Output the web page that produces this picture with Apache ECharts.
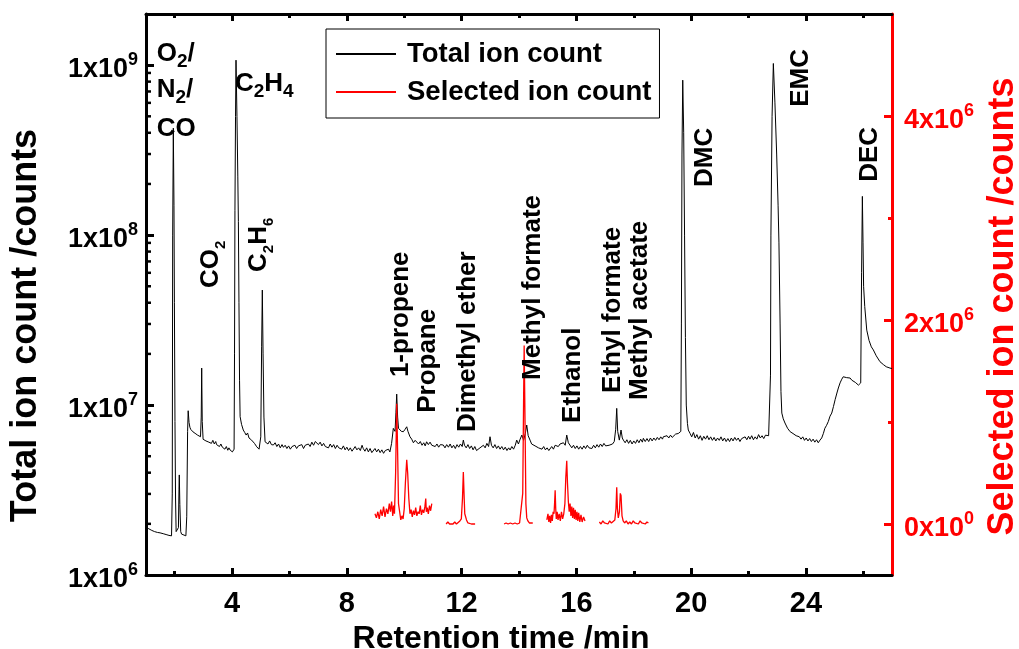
<!DOCTYPE html>
<html><head><meta charset="utf-8">
<script src="https://cdn.jsdelivr.net/npm/echarts@6/dist/echarts.min.js"></script>
<style>html,body{margin:0;padding:0;background:#fff}#c{width:1019px;height:649px}</style>
</head><body><div id="c"></div>
<script>
const FONT = "'Liberation Sans', Arial, Helvetica, sans-serif";

// ---- data (time in min, counts in millions) ----
const totalIonMillions = [
[1.00,1.91],[1.10,1.87],[1.20,1.83],[1.30,1.80],[1.40,1.78],[1.49,1.77],[1.60,1.75],[1.70,1.73],[1.80,1.71],[1.89,1.70],
[1.915,3],[1.93,100],[1.952,426],[1.975,150],[1.99,40],[2.01,8],[2.03,2.8],[2.05,1.80],[2.10,1.76],[2.13,1.9],[2.15,3.2],[2.16,3.88],[2.18,2.6],[2.21,1.8],[2.24,1.74],[2.30,1.71],[2.39,1.70],
[2.42,2.2],[2.45,7.0],[2.47,9.26],[2.50,7.9],[2.53,7.4],[2.56,7.19],[2.60,7.3],[2.64,6.95],[2.68,7.05],[2.71,6.82],[2.76,6.9],[2.80,6.65],[2.85,6.7],[2.90,6.51],[2.925,8.5],[2.941,16.5],[2.96,8.0],[2.99,6.29],
[3.04,6.4],[3.09,6.15],[3.14,6.3],[3.19,6.05],[3.23,6.17],[3.28,5.95],[3.33,6.2],[3.38,5.9],[3.43,6.1],[3.46,5.85],[3.51,6.0],[3.56,5.7],[3.61,5.9],[3.66,5.65],[3.70,5.74],[3.75,5.5],[3.80,5.7],[3.85,5.42],[3.89,5.6],[3.93,5.44],[3.97,5.55],[4.01,5.3],[4.04,5.36],
[4.07,5.5],[4.085,20],[4.10,140],[4.12,500],[4.137,1070],[4.17,500],[4.20,220],[4.22,120],[4.24,40],[4.26,14],[4.28,8.54],[4.33,7.7],[4.39,7.13],[4.44,6.9],[4.49,6.66],[4.54,6.85],[4.59,6.4],[4.63,6.55],[4.68,6.22],[4.73,6.35],[4.78,5.95],[4.82,6.05],[4.86,5.68],[4.90,5.8],[4.94,5.5],[4.97,5.6],
[5.00,6.5],[5.03,22],[5.054,47.5],[5.08,20],[5.11,8.5],[5.15,6.08],[5.21,5.95],
[5.25,5.9],[5.31,6.15],[5.37,5.85],[5.44,5.82],[5.50,6.0],[5.56,5.7],[5.62,5.9],[5.68,5.6],[5.74,5.85],[5.79,5.64],[5.85,5.8],[5.91,5.55],[5.97,5.75],[6.03,5.5],[6.09,5.7],[6.13,5.56],[6.19,5.8],[6.25,5.55],[6.31,5.75],[6.37,5.6],[6.43,5.85],[6.49,5.55],[6.55,5.8],[6.60,5.68],[6.66,5.9],[6.72,5.7],[6.78,6.05],[6.84,5.8],[6.90,6.1],[6.95,6.0],
[7.01,5.85],[7.07,6.05],[7.13,5.75],[7.19,5.95],[7.25,5.7],[7.30,5.82],[7.36,5.6],[7.42,5.9],[7.48,5.65],[7.54,5.85],[7.60,5.55],[7.66,5.8],[7.72,5.6],[7.76,5.68],[7.82,5.5],[7.88,5.75],[7.94,5.45],[8.00,5.65],[8.06,5.4],[8.12,5.6],[8.18,5.35],[8.23,5.49],[8.29,5.7],[8.35,5.45],[8.41,5.6],[8.47,5.4],[8.53,5.8],[8.57,5.56],[8.63,5.35],[8.69,5.6],[8.75,5.3],[8.81,5.55],[8.87,5.25],[8.92,5.31],[8.98,5.55],
[9.04,5.3],[9.10,5.5],[9.16,5.25],[9.22,5.45],[9.28,5.2],[9.34,5.4],[9.39,5.31],[9.45,5.5],[9.50,5.3],[9.56,5.95],[9.62,7.29],[9.68,7.0],[9.71,9.0],[9.738,11.6],[9.77,8.5],[9.80,7.3],[9.85,7.29],[9.90,7.0],[9.97,6.97],
[10.03,7.2],[10.087,7.45],[10.13,7.0],[10.20,6.51],[10.26,6.3],[10.32,6.0],[10.38,6.2],[10.435,6.08],[10.50,5.9],[10.56,6.1],[10.62,5.8],[10.68,6.0],[10.73,5.75],[10.78,6.08],[10.84,5.85],[10.90,6.05],[10.96,5.8],
[11.02,5.95],[11.08,5.7],[11.14,5.9],[11.20,5.65],[11.26,5.85],[11.32,5.7],[11.36,5.82],[11.42,5.6],[11.48,5.85],[11.54,5.65],[11.60,5.9],[11.66,5.6],[11.72,5.8],[11.78,5.55],[11.84,5.85],[11.90,5.65],[11.96,5.9],
[12.02,5.7],[12.06,6.22],[12.10,5.8],[12.16,5.6],[12.22,5.85],[12.28,5.55],[12.34,5.75],[12.40,5.45],[12.46,5.7],[12.52,5.4],[12.58,5.31],[12.64,5.6],[12.70,5.5],[12.76,5.8],[12.82,5.6],[12.88,5.95],[12.94,5.7],[12.99,6.51],
[13.04,5.8],[13.10,5.6],[13.16,5.85],[13.22,5.55],[13.28,5.75],[13.34,5.5],[13.40,5.7],[13.46,5.45],[13.52,5.65],[13.58,5.4],[13.64,5.6],[13.69,5.44],[13.75,5.7],[13.81,5.5],[13.87,5.8],[13.92,6.22],[13.98,5.9],
[14.04,6.3],[14.10,6.66],[14.16,6.2],[14.22,6.8],[14.27,7.63],[14.32,6.6],[14.385,6.22],[14.44,5.9],[14.50,6.0],[14.56,5.75],[14.62,5.82],[14.68,5.6],[14.74,5.75],[14.80,5.5],[14.86,5.7],[14.92,5.45],[14.98,5.6],
[15.04,5.4],[15.08,5.49],[15.14,5.7],[15.20,5.5],[15.26,5.8],[15.315,5.95],[15.37,5.7],[15.43,5.9],[15.49,5.75],[15.55,6.0],[15.61,5.8],[15.664,6.66],[15.72,6.0],[15.779,5.95],[15.84,5.6],[15.90,5.8],[15.96,5.55],
[16.02,5.75],[16.08,5.5],[16.14,5.7],[16.20,5.5],[16.26,5.75],[16.32,5.55],[16.38,5.8],[16.44,5.6],[16.476,5.74],[16.54,5.55],[16.60,5.8],[16.66,5.6],[16.72,5.85],[16.78,5.65],[16.84,5.9],[16.90,5.7],[16.96,5.95],
[17.02,5.75],[17.08,5.9],[17.14,5.8],[17.20,5.95],[17.26,5.9],[17.32,6.1],[17.37,7.2],[17.406,9.56],[17.44,7.0],[17.497,6.22],[17.556,7.13],[17.60,6.4],[17.637,6.22],[17.70,6.0],[17.76,6.25],[17.82,5.95],[17.88,6.2],[17.94,5.9],
[18.00,6.15],[18.06,5.95],[18.12,6.25],[18.18,6.0],[18.24,6.3],[18.30,6.05],[18.334,6.37],[18.40,6.1],[18.46,6.35],[18.52,6.1],[18.58,6.4],[18.64,6.15],[18.70,6.4],[18.76,6.2],[18.82,6.45],[18.88,6.25],[18.94,6.5],
[19.00,6.3],[19.031,6.51],[19.10,6.35],[19.16,6.6],[19.22,6.4],[19.28,6.65],[19.34,6.45],[19.40,6.6],[19.46,6.75],[19.498,6.66],[19.55,6.8],[19.613,6.82],
[19.64,7.0],[19.66,30],[19.68,300],[19.707,816],[19.74,400],[19.77,100],[19.80,25],[19.83,10],[19.87,7.8],[19.90,7.13],[19.96,6.82],
[20.02,6.5],[20.08,6.9],[20.14,6.4],[20.20,6.7],[20.26,6.3],[20.32,6.6],[20.38,6.2],[20.44,6.55],[20.50,6.3],[20.56,6.6],[20.62,6.25],[20.68,6.5],[20.74,6.2],[20.80,6.45],[20.86,6.15],[20.92,6.4],[20.98,6.2],
[21.04,6.5],[21.10,6.15],[21.16,6.4],[21.22,6.1],[21.28,6.35],[21.34,6.1],[21.40,6.4],[21.46,6.15],[21.52,6.45],[21.58,6.2],[21.64,6.4],[21.70,6.1],[21.76,6.35],[21.82,6.2],[21.88,6.5],[21.94,6.25],
[22.00,6.55],[22.05,6.3],[22.11,6.6],[22.17,6.25],[22.23,6.5],[22.29,6.3],[22.35,6.7],[22.41,6.4],[22.47,6.6],[22.53,6.35],[22.59,6.65],[22.64,6.51],[22.70,6.6],[22.75,6.66],
[22.765,15],[22.78,100],[22.82,500],[22.865,1023],[22.92,600],[22.98,300],[23.03,150],[23.06,90],[23.10,30],[23.13,12],[23.16,8.97],[23.21,8.3],[23.27,7.84],[23.36,7.3],[23.45,6.97],[23.55,6.8],[23.66,6.6],[23.77,6.51],
[23.83,6.3],[23.89,6.5],[23.95,6.2],[24.01,6.4],[24.07,6.15],[24.13,6.35],[24.19,6.1],[24.25,6.3],[24.31,6.05],[24.37,6.25],[24.43,6.0],[24.49,6.22],[24.55,6.4],[24.61,6.82],[24.66,7.3],[24.72,7.6],[24.78,8.0],[24.84,8.6],[24.90,8.97],[24.96,9.8],
[25.02,10.8],[25.08,11.77],[25.13,12.6],[25.19,13.5],[25.25,14.2],[25.30,14.67],[25.36,14.6],[25.42,14.5],[25.48,14.3],[25.54,14.42],[25.60,14.0],[25.66,13.8],[25.72,13.6],[25.78,13.3],[25.83,13.1],[25.87,13.0],[25.91,13.5],
[25.94,60],[25.967,169],[25.99,90],[26.01,50],[26.05,38],[26.12,27.6],[26.20,24],[26.28,22],[26.35,21.1],[26.45,19.5],[26.58,18.0],[26.70,17.3],[26.80,16.8],[26.93,16.5],[27.00,16.4]
];

// selected ion count segments (time in min, counts in millions)
const sicPropene = [
[8.98,0.10],[9.03,0.06],[9.08,0.12],[9.13,0.05],[9.18,0.14],[9.23,0.08],[9.28,0.17],[9.33,0.07],[9.38,0.15],[9.43,0.10],[9.48,0.20],[9.52,0.12],[9.56,0.22],[9.60,0.08],[9.63,0.18],[9.66,0.10],
[9.70,0.5],[9.738,1.18],[9.77,0.7],[9.80,0.2],[9.84,0.12],[9.88,0.04],[9.92,0.08],[9.96,0.05],[10.00,0.15],[10.04,0.40],[10.087,0.63],[10.12,0.50],[10.16,0.25],[10.20,0.10],
[10.24,0.14],[10.28,0.07],[10.32,0.13],[10.36,0.09],[10.40,0.16],[10.44,0.08],[10.48,0.12],[10.52,0.10],[10.56,0.18],[10.60,0.09],[10.64,0.14],[10.68,0.11],[10.72,0.17],[10.75,0.25],[10.77,0.12],[10.80,0.16],[10.84,0.10],[10.88,0.18],[10.92,0.13],[10.96,0.20]
];
const sicDimethylEther = [
[11.46,0.0],[11.52,0.02],[11.58,0.0],[11.64,0.01],[11.70,0.0],[11.76,0.02],[11.82,0.0],[11.88,0.01],[11.94,0.03],[11.99,0.05],[12.03,0.25],[12.06,0.51],[12.09,0.25],[12.11,0.10],[12.14,0.11],[12.17,0.04],[12.22,0.01],[12.28,0.02],[12.34,0.0],[12.40,0.01],[12.47,0.0]
];
const sicMethylFormate = [
[13.48,0.0],[13.55,0.01],[13.62,0.0],[13.70,0.01],[13.78,0.0],[13.86,0.01],[13.94,0.0],[14.02,0.01],[14.08,0.02],[14.13,0.3],[14.16,1.2],[14.18,1.75],[14.21,1.0],[14.24,0.2],[14.27,0.06],[14.31,0.03],[14.36,0.01],[14.42,0.0],[14.48,0.01]
];
const sicEthanol = [
[14.97,0.04],[15.01,0.10],[15.04,0.02],[15.07,0.08],[15.10,0.01],[15.13,0.09],[15.16,0.03],[15.19,0.12],[15.22,0.10],[15.24,0.20],[15.26,0.33],[15.28,0.15],[15.30,0.05],[15.33,0.12],[15.36,0.04],[15.40,0.10],[15.44,0.03],[15.48,0.12],[15.52,0.05],[15.56,0.10],
[15.60,0.20],[15.63,0.45],[15.664,0.62],[15.69,0.40],[15.72,0.22],[15.75,0.12],[15.78,0.20],[15.81,0.08],[15.84,0.17],[15.87,0.06],[15.90,0.16],[15.93,0.05],[15.96,0.14],[15.99,0.04],[16.02,0.12],[16.05,0.03],[16.08,0.11],[16.12,0.02],[16.16,0.09],[16.20,0.02],[16.25,0.07],[16.30,0.03]
];
const sicEsters = [
[16.80,0.02],[16.86,0.0],[16.92,0.03],[16.98,0.01],[17.04,0.02],[17.10,0.0],[17.16,0.03],[17.22,0.01],[17.28,0.02],[17.34,0.04],[17.38,0.15],[17.406,0.36],[17.43,0.15],[17.46,0.06],[17.50,0.12],[17.53,0.30],[17.556,0.28],[17.59,0.08],[17.63,0.03],
[17.68,0.01],[17.74,0.03],[17.80,0.0],[17.86,0.02],[17.92,0.0],[17.98,0.03],[18.04,0.01],[18.10,0.02],[18.16,0.0],[18.22,0.03],[18.28,0.01],[18.34,0.02],[18.40,0.0],[18.46,0.02],[18.51,0.01]
];

// axis ticks
const xMajorTicks = [4, 8, 12, 16, 20, 24];
const xMinorTicks = [2, 6, 10, 14, 18, 22, 26];
const leftMinorTicks = [2e6,3e6,4e6,5e6,6e6,7e6,8e6,9e6,2e7,3e7,4e7,5e7,6e7,7e7,8e7,9e7,2e8,3e8,4e8,5e8,6e8,7e8,8e8,9e8];
const rightMajorTicks = [0, 2e6, 4e6];
const rightMinorTicks = [1e6, 3e6];

// peak annotations (anchor in data units: time, counts in millions)
const annotations = [
  {text:'{b|O}{s|2}{b|/}', t:1.373, c:1390, vertical:false},
  {text:'{b|N}{s|2}{b|/}', t:1.373, c:853, vertical:false},
  {text:'{b|CO}', t:1.373, c:504, vertical:false},
  {text:'{b|C}{s|2}{b|H}{s|4}', t:4.102, c:925, vertical:false},
  {text:'{b|CO}{ss|2}', t:2.81, c:48.9, vertical:true},
  {text:'{b|C}{ss|2}{b|H}{ss|6}', t:4.49, c:60.7, vertical:true},
  {text:'{b|1-propene}', t:9.44, c:14.6, vertical:true},
  {text:'{b|Propane}', t:10.38, c:9.0, vertical:true},
  {text:'{b|Dimethyl ether}', t:11.77, c:6.95, vertical:true},
  {text:'{b|Methyl formate}', t:14.04, c:14.06, vertical:true},
  {text:'{b|Ethanol}', t:15.43, c:7.85, vertical:true},
  {text:'{b|Ethyl formate}', t:16.83, c:11.78, vertical:true},
  {text:'{b|Methyl acetate}', t:17.77, c:10.72, vertical:true},
  {text:'{b|DMC}', t:20.03, c:192, vertical:true},
  {text:'{b|EMC}', t:23.38, c:569, vertical:true},
  {text:'{b|DEC}', t:25.78, c:206, vertical:true}
];

// ---- chart ----
const M = 1e6;
const toCounts = arr => arr.map(p => [p[0], p[1] * M]);

const supRich = color => ({
  b: {fontSize: 27, fontWeight: 'bold', fontFamily: FONT, color: color, verticalAlign: 'bottom', padding: [5, 0, 0, 0]},
  s: {fontSize: 18, fontWeight: 'bold', fontFamily: FONT, color: color, verticalAlign: 'top'}
});

const xBase = {type: 'value', min: 1, max: 27, gridIndex: 0, splitLine: {show: false}};
const sicSegments = [sicPropene, sicDimethylEther, sicMethylFormate, sicEthanol, sicEsters];

const option = {
  animation: false,
  backgroundColor: '#fff',
  grid: {left: 146, right: 127, top: 14, bottom: 74, containLabel: false, outerBoundsMode: 'none'},
  legend: {
    data: ['Total ion count', 'Selected ion count'],
    orient: 'vertical', left: 326, top: 29,
    borderColor: '#000', borderWidth: 1, padding: [11, 8, 12, 9],
    itemWidth: 60, itemHeight: 14, itemGap: 10,
    itemStyle: {opacity: 0},
    lineStyle: {opacity: 1},
    textStyle: {fontSize: 27.5, fontWeight: 'bold', fontFamily: FONT, color: '#000', padding: [0, 0, 0, 6]}
  },
  xAxis: [
    Object.assign({}, xBase, {
      position: 'bottom',
      axisLine: {show: true, onZero: false, lineStyle: {color: '#000', width: 3}},
      axisTick: {show: true, inside: true, length: 7, lineStyle: {color: '#000', width: 3}, customValues: xMajorTicks},
      axisLabel: {customValues: xMajorTicks, fontSize: 29, fontWeight: 'bold', fontFamily: FONT, color: '#000', margin: 14},
      name: 'Retention time /min', nameLocation: 'middle', nameGap: 41,
      nameTextStyle: {fontSize: 32, fontWeight: 'bold', fontFamily: FONT, color: '#000', padding: [0, 36, 0, 0]}
    }),
    Object.assign({}, xBase, {
      position: 'bottom',
      axisLine: {show: false, onZero: false},
      axisTick: {show: true, inside: true, length: 4, lineStyle: {color: '#000', width: 3}, customValues: xMinorTicks},
      axisLabel: {show: false}
    }),
    Object.assign({}, xBase, {
      position: 'top',
      axisLine: {show: true, onZero: false, lineStyle: {color: '#000', width: 3}},
      axisTick: {show: true, inside: true, length: 7, lineStyle: {color: '#000', width: 3}, customValues: xMajorTicks},
      axisLabel: {show: false}
    }),
    Object.assign({}, xBase, {
      position: 'top',
      axisLine: {show: false, onZero: false},
      axisTick: {show: true, inside: true, length: 4, lineStyle: {color: '#000', width: 3}, customValues: xMinorTicks},
      axisLabel: {show: false}
    })
  ],
  yAxis: [
    {
      type: 'log', logBase: 10, min: 1e6, max: 2e9, position: 'left',
      splitLine: {show: false},
      axisLine: {show: true, onZero: false, lineStyle: {color: '#000', width: 3}},
      axisTick: {show: true, inside: true, length: 8, lineStyle: {color: '#000', width: 3}},
      minorTick: {show: false},
      axisLabel: {
        margin: 8, padding: [4, 0, 0, 0],
        formatter: v => {
          const e = Math.log10(v);
          if (Math.abs(e - Math.round(e)) > 1e-6) return '';
          return '{b|1x10}{s|' + Math.round(e) + '}';
        },
        rich: supRich('#000')
      },
      name: 'Total ion count /counts', nameLocation: 'middle', nameGap: 102, nameRotate: 90,
      nameTextStyle: {fontSize: 36, fontWeight: 'bold', fontFamily: FONT, color: '#000', padding: [0, 62, 0, 0]}
    },
    {
      type: 'value', min: -5e5, max: 5e6, position: 'right',
      splitLine: {show: false},
      axisLine: {show: true, onZero: false, lineStyle: {color: '#ff0000', width: 3}},
      axisTick: {show: true, inside: true, length: 8, lineStyle: {color: '#ff0000', width: 3}, customValues: rightMajorTicks},
      axisLabel: {
        customValues: rightMajorTicks, margin: 12, padding: [4, 0, 0, 0],
        formatter: v => v === 0 ? '{b|0x10}{s|0}' : '{b|' + Math.round(v / 1e6) + 'x10}{s|6}',
        rich: supRich('#ff0000')
      },
      name: 'Selected ion count /counts', nameLocation: 'middle', nameGap: 81, nameRotate: 90,
      nameTextStyle: {fontSize: 36, fontWeight: 'bold', fontFamily: FONT, color: '#ff0000', padding: [0, 24, 0, 0]}
    },
    {
      type: 'value', min: -5e5, max: 5e6, position: 'right',
      splitLine: {show: false},
      axisLine: {show: false, onZero: false},
      axisTick: {show: true, inside: true, length: 4, lineStyle: {color: '#ff0000', width: 3}, customValues: rightMinorTicks},
      axisLabel: {show: false}
    }
  ],
  series: [
    {
      type: 'custom', name: 'logMinor', xAxisIndex: 0, yAxisIndex: 0, silent: true, clip: false, z: 5,
      data: leftMinorTicks.map(v => [1, v]),
      renderItem: (params, api) => {
        const p = api.coord([1, api.value(1)]);
        return {type: 'line', shape: {x1: p[0], y1: p[1], x2: p[0] + 5, y2: p[1]}, style: {stroke: '#000', lineWidth: 2.5}};
      }
    },
    {
      type: 'line', name: 'Total ion count', xAxisIndex: 0, yAxisIndex: 0,
      data: toCounts(totalIonMillions), symbol: 'none', showSymbol: false,
      lineStyle: {color: '#000', width: 1}, itemStyle: {color: '#000'}, z: 2
    }
  ].concat(sicSegments.map(seg => ({
      type: 'line', name: 'Selected ion count', xAxisIndex: 0, yAxisIndex: 1,
      data: toCounts(seg), symbol: 'none', showSymbol: false,
      lineStyle: {color: '#ff0000', width: 1.3}, itemStyle: {color: '#ff0000'}, z: 3
  })))
};

const chart = echarts.init(document.getElementById('c'), null, {renderer: 'canvas'});
chart.setOption(option);

const annRich = {
  b: {fontSize: 26, fontWeight: 'bold', fontFamily: FONT, color: '#000', verticalAlign: 'top', lineHeight: 30, padding: [0, 0, 5, 0]},
  s: {fontSize: 19, fontWeight: 'bold', fontFamily: FONT, color: '#000', verticalAlign: 'bottom', lineHeight: 22},
  ss: {fontSize: 15, fontWeight: 'bold', fontFamily: FONT, color: '#000', verticalAlign: 'bottom', lineHeight: 20}
};
const graphics = annotations.map(a => {
  const p = chart.convertToPixel({xAxisIndex: 0, yAxisIndex: 0}, [a.t, a.c * M]);
  return {
    type: 'text', x: p[0], y: p[1], rotation: a.vertical ? Math.PI / 2 : 0, silent: true, z: 50,
    style: {text: a.text, align: 'left', verticalAlign: 'top', rich: annRich}
  };
});
chart.setOption({graphic: graphics});
</script></body></html>
